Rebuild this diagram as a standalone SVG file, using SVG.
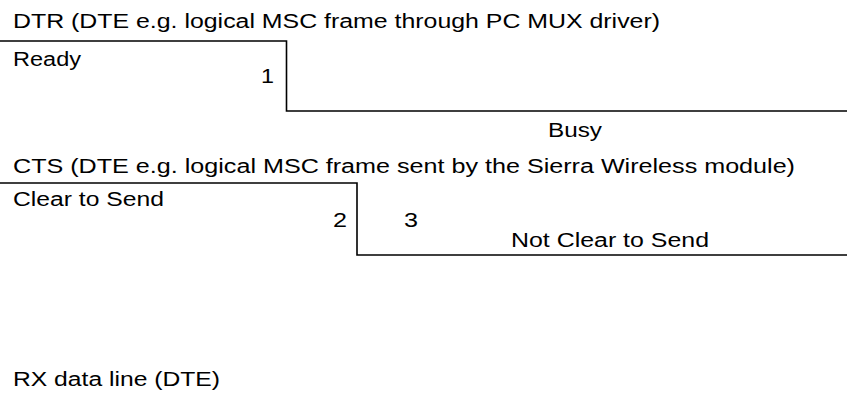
<svg xmlns="http://www.w3.org/2000/svg" width="847" height="394" viewBox="0 0 847 394">
<style>
text{font-family:"Liberation Sans",Arial,sans-serif;font-size:20px;fill:#000}
.num{font-size:21px}
.sig{fill:none;stroke:#000;stroke-width:1.6}
</style>
<rect width="847" height="394" fill="#fff"/>
<g id="dtr">
<text x="13" y="28" textLength="647" lengthAdjust="spacingAndGlyphs">DTR (DTE e.g. logical MSC frame through PC MUX driver)</text>
<text x="13" y="66" textLength="68" lengthAdjust="spacingAndGlyphs">Ready</text>
<text class="num" x="261" y="83" textLength="13" lengthAdjust="spacingAndGlyphs">1</text>
<text x="548" y="137" textLength="54" lengthAdjust="spacingAndGlyphs">Busy</text>
</g>
<g id="cts">
<text x="13" y="173" textLength="782" lengthAdjust="spacingAndGlyphs">CTS (DTE e.g. logical MSC frame sent by the Sierra Wireless module)</text>
<text x="13" y="206" textLength="151" lengthAdjust="spacingAndGlyphs">Clear to Send</text>
<text class="num" x="333" y="227" textLength="14" lengthAdjust="spacingAndGlyphs">2</text>
<text class="num" x="404" y="227" textLength="14" lengthAdjust="spacingAndGlyphs">3</text>
<text x="511" y="247" textLength="198" lengthAdjust="spacingAndGlyphs">Not Clear to Send</text>
</g>
<g id="rx">
<text x="13" y="386" textLength="207" lengthAdjust="spacingAndGlyphs">RX data line (DTE)</text>
</g>
<g id="connectors">
<polyline class="sig" points="0,41 286.5,41 286.5,111 847,111"/>
<polyline class="sig" points="0,183 357,183 357,255 847,255"/>
</g>
</svg>
